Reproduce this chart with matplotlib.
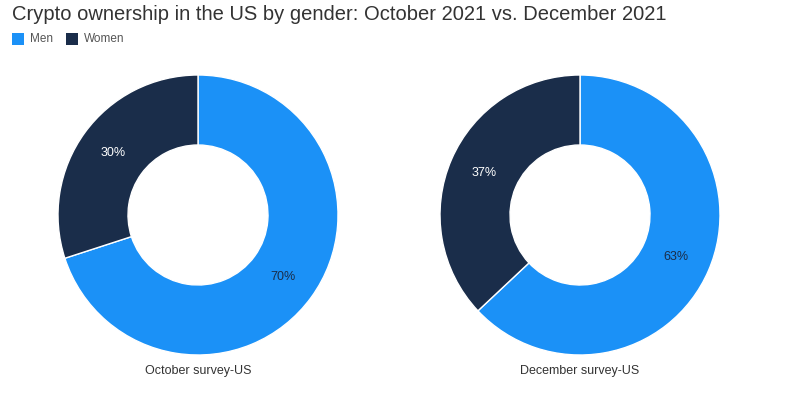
import matplotlib
matplotlib.use("Agg")
import matplotlib.pyplot as plt
import matplotlib.patches as patches

# Data
genders = ["Men", "Women"]
surveys = ["October survey-US", "December survey-US"]
october = [70, 30]
december = [63, 37]

colors = ["#1b91f7", "#1a2d4a"]
label_colors = ["#1a2d4a", "white"]

W, H = 800, 395
fig = plt.figure(figsize=(W / 100, H / 100), dpi=100)
fig.patch.set_facecolor("white")
plt.rcParams["font.family"] = ["Liberation Sans", "DejaVu Sans"]

def draw_donut(cx, cy, r, values, caption):
    # axes placed in pixel coordinates (y from top)
    ax = fig.add_axes([(cx - r) / W, (H - cy - r) / H, 2 * r / W, 2 * r / H])
    wedges, texts, autotexts = ax.pie(
        values, colors=colors, startangle=90, counterclock=False,
        radius=1.0, wedgeprops=dict(width=0.5, edgecolor="white", linewidth=1),
        autopct="%d%%", pctdistance=0.75, textprops=dict(fontsize=9))
    for t, c in zip(autotexts, label_colors):
        t.set_color(c)
    ax.set_xlim(-1, 1)
    ax.set_ylim(-1, 1)
    ax.set_aspect("equal")
    ax.axis("off")
    fig.text(cx / W, 1 - 371 / H, caption, ha="center", va="center",
             fontsize=9, color="#333333")

draw_donut(198, 215, 140, october, surveys[0])
draw_donut(580, 215, 140, december, surveys[1])

# Title
fig.text(12 / W, 1 - 15 / H, "Crypto ownership in the US by gender: October 2021 vs. December 2021",
         ha="left", va="center", fontsize=14.5, color="#333333")

# Legend
lx = 12
for name, col in zip(genders, colors):
    fig.patches.append(patches.Rectangle((lx / W, 1 - 45 / H), 12 / W, 12 / H,
                                         transform=fig.transFigure, facecolor=col,
                                         edgecolor="none"))
    fig.text((lx + 18) / W, 1 - 39 / H, name, ha="left", va="center",
             fontsize=8.5, color="#555555")
    lx += 54

fig.savefig("out.png", dpi=100)
